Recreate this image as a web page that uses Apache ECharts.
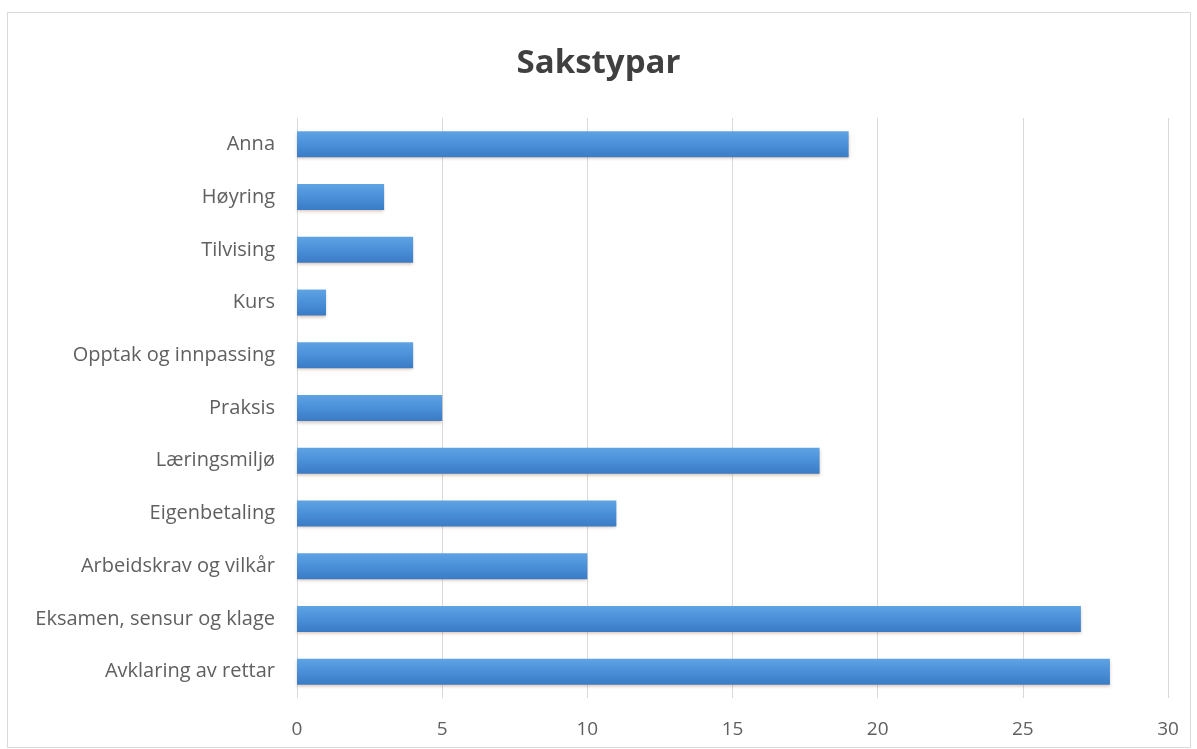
<!DOCTYPE html>
<html>
<head>
<meta charset="utf-8">
<script src="https://cdn.jsdelivr.net/npm/echarts@6/dist/echarts.min.js"></script>
<style>
html,body{margin:0;padding:0;background:#fff;}
#c{width:1197px;height:749px;}
</style>
</head>
<body>
<div id="c"></div>
<script>
const categories = ["Avklaring av rettar","Eksamen, sensur og klage","Arbeidskrav og vilkår","Eigenbetaling","Læringsmiljø","Praksis","Opptak og innpassing","Kurs","Tilvising","Høyring","Anna"];
const values = [28,27,10,11,18,5,4,1,4,3,19];
const titleText = "Sakstypar";

const chart = echarts.init(document.getElementById('c'));
chart.setOption({
  animation:false,
  backgroundColor:'#fff',
  title:{text:titleText,left:'center',top:42,textStyle:{fontFamily:'Open Sans',fontSize:33,fontWeight:'bold',color:'#404040'}},
  graphic:[{type:'rect',shape:{x:7.5,y:12.5,width:1183,height:735},style:{fill:'none',stroke:'#d9d9d9',lineWidth:1},silent:true}],
  grid:{left:297,right:29,top:118,bottom:51,containLabel:false},
  xAxis:{type:'value',min:0,max:30,interval:5,
    axisLine:{show:false},axisTick:{show:false},
    axisLabel:{margin:22,fontFamily:'Open Sans',fontSize:19,color:'#606060'},
    splitLine:{show:true,lineStyle:{color:'#d9d9d9',width:1}}},
  yAxis:{type:'category',data:categories,
    axisLine:{show:false},axisTick:{show:false},
    axisLabel:{margin:22,fontFamily:'Open Sans',fontSize:20,color:'#606060'}},
  series:[{type:'bar',data:values,barWidth:26,
    itemStyle:{color:new echarts.graphic.LinearGradient(0,0,0,1,[{offset:0,color:'#5fa3e3'},{offset:0.5,color:'#4a90d9'},{offset:1,color:'#3a7bc4'}]),
      shadowColor:'rgba(150,90,60,0.35)',shadowBlur:3,shadowOffsetY:2}}]
});
</script>
</body>
</html>
